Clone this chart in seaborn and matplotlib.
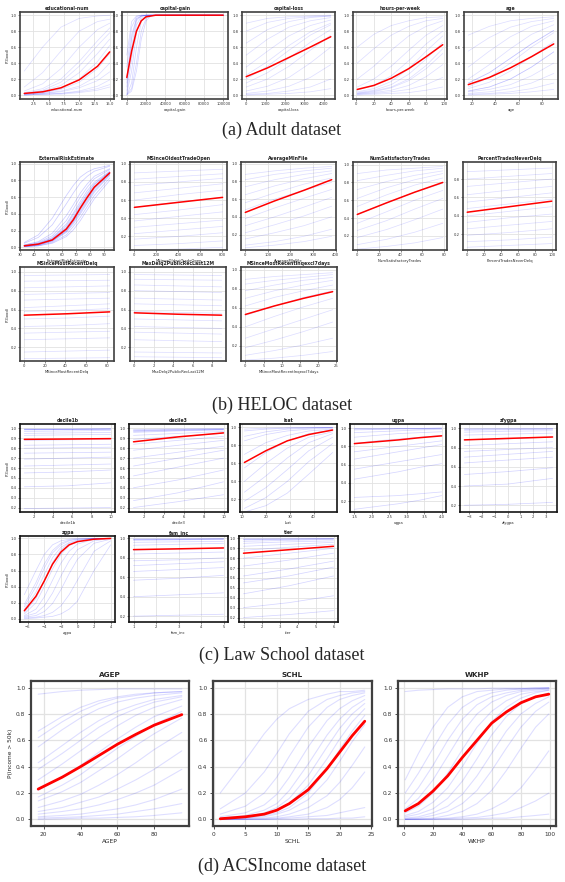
import matplotlib
matplotlib.use("Agg")
import matplotlib.pyplot as plt
from matplotlib.ticker import MultipleLocator
import pandas as pd
import seaborn as sns

# ---------------- Adult ----------------
edu_x = [1, 4, 7, 10, 13, 15]
edu_mean = [0.02, 0.04, 0.09, 0.19, 0.36, 0.54]
edu_ice = [
    [0.00, 0.01, 0.02, 0.04, 0.08, 0.13],
    [0.00, 0.01, 0.02, 0.05, 0.11, 0.19],
    [0.01, 0.02, 0.04, 0.09, 0.18, 0.29],
    [0.01, 0.02, 0.05, 0.11, 0.24, 0.40],
    [0.01, 0.03, 0.07, 0.16, 0.33, 0.52],
    [0.01, 0.03, 0.08, 0.20, 0.42, 0.62],
    [0.02, 0.05, 0.12, 0.28, 0.52, 0.70],
    [0.02, 0.06, 0.16, 0.36, 0.62, 0.78],
    [0.03, 0.08, 0.20, 0.42, 0.68, 0.84],
    [0.05, 0.14, 0.33, 0.60, 0.82, 0.90],
    [0.10, 0.28, 0.55, 0.80, 0.92, 0.95],
    [0.30, 0.60, 0.85, 0.96, 0.99, 1.00],
    [0.00, 0.01, 0.01, 0.03, 0.06, 0.10],
]

cg_x = [0, 5000, 10000, 15000, 20000, 25000, 30000, 100000]
cg_mean = [0.22, 0.55, 0.80, 0.93, 0.98, 0.99, 1.0, 1.0]
cg_ice = [
    [0.00, 0.15, 0.60, 0.92, 0.99, 1.0, 1.0, 1.0],
    [0.02, 0.30, 0.78, 0.96, 0.99, 1.0, 1.0, 1.0],
    [0.05, 0.45, 0.88, 0.98, 1.0, 1.0, 1.0, 1.0],
    [0.10, 0.60, 0.93, 0.99, 1.0, 1.0, 1.0, 1.0],
    [0.20, 0.75, 0.96, 0.99, 1.0, 1.0, 1.0, 1.0],
    [0.35, 0.85, 0.98, 1.0, 1.0, 1.0, 1.0, 1.0],
    [0.50, 0.92, 0.99, 1.0, 1.0, 1.0, 1.0, 1.0],
    [0.01, 0.08, 0.40, 0.80, 0.96, 0.99, 1.0, 1.0],
    [0.00, 0.05, 0.30, 0.70, 0.93, 0.99, 1.0, 1.0],
    [0.15, 0.70, 0.95, 0.99, 1.0, 1.0, 1.0, 1.0],
]

cl_x = [0, 1100, 2200, 3300, 4356]
cl_mean = [0.23, 0.34, 0.47, 0.60, 0.73]
cl_ice = [
    [0.00, 0.01, 0.02, 0.04, 0.08],
    [0.01, 0.02, 0.05, 0.10, 0.20],
    [0.02, 0.05, 0.11, 0.22, 0.38],
    [0.05, 0.11, 0.22, 0.40, 0.60],
    [0.10, 0.20, 0.36, 0.56, 0.75],
    [0.15, 0.28, 0.46, 0.66, 0.82],
    [0.25, 0.42, 0.62, 0.79, 0.90],
    [0.35, 0.55, 0.74, 0.87, 0.94],
    [0.50, 0.70, 0.85, 0.93, 0.97],
    [0.65, 0.82, 0.92, 0.97, 0.99],
    [0.80, 0.91, 0.96, 0.98, 0.99],
    [0.90, 0.96, 0.98, 0.99, 1.00],
    [0.20, 0.36, 0.56, 0.75, 0.88],
]

hpw_x = [1, 20, 40, 60, 80, 99]
hpw_mean = [0.07, 0.12, 0.21, 0.33, 0.48, 0.63]
hpw_ice = [
    [0.00, 0.01, 0.02, 0.03, 0.06, 0.10],
    [0.01, 0.02, 0.04, 0.07, 0.13, 0.22],
    [0.01, 0.03, 0.06, 0.12, 0.23, 0.38],
    [0.02, 0.04, 0.09, 0.18, 0.33, 0.52],
    [0.03, 0.06, 0.13, 0.26, 0.45, 0.66],
    [0.04, 0.08, 0.17, 0.33, 0.55, 0.74],
    [0.06, 0.12, 0.24, 0.43, 0.64, 0.80],
    [0.10, 0.20, 0.36, 0.56, 0.75, 0.87],
    [0.20, 0.36, 0.56, 0.74, 0.86, 0.93],
    [0.40, 0.58, 0.75, 0.86, 0.93, 0.96],
    [0.60, 0.76, 0.87, 0.93, 0.97, 0.98],
    [0.02, 0.05, 0.10, 0.20, 0.37, 0.58],
]

age_x = [17, 35, 53, 71, 90]
age_mean = [0.13, 0.22, 0.34, 0.48, 0.64]
age_ice = [
    [0.15, 0.28, 0.46, 0.64, 0.81],
    [0.15, 0.28, 0.46, 0.64, 0.81],
    [0.05, 0.10, 0.20, 0.35, 0.54],
    [0.05, 0.10, 0.20, 0.35, 0.54],
    [0.04, 0.07, 0.13, 0.24, 0.40],
    [0.02, 0.04, 0.08, 0.15, 0.27],
    [0.01, 0.02, 0.04, 0.08, 0.15],
    [0.00, 0.01, 0.02, 0.04, 0.07],
    [0.08, 0.16, 0.30, 0.48, 0.67],
    [0.10, 0.22, 0.40, 0.60, 0.78],
    [0.20, 0.38, 0.58, 0.76, 0.88],
    [0.35, 0.55, 0.73, 0.86, 0.93],
    [0.55, 0.72, 0.85, 0.92, 0.96],
    [0.75, 0.86, 0.93, 0.96, 0.98],
]

# ---------------- HELOC ----------------
ere_x = [33, 43, 53, 63, 68, 73, 78, 83, 94]
ere_mean = [0.02, 0.04, 0.09, 0.22, 0.33, 0.47, 0.60, 0.72, 0.89]
ere_ice = [
    [0.01, 0.03, 0.07, 0.18, 0.28, 0.40, 0.53, 0.66, 0.86],
    [0.02, 0.04, 0.10, 0.24, 0.36, 0.50, 0.63, 0.75, 0.90],
    [0.01, 0.02, 0.05, 0.13, 0.21, 0.32, 0.45, 0.58, 0.80],
    [0.02, 0.05, 0.12, 0.28, 0.41, 0.55, 0.68, 0.78, 0.91],
    [0.03, 0.07, 0.17, 0.38, 0.51, 0.65, 0.76, 0.85, 0.94],
    [0.05, 0.12, 0.27, 0.52, 0.65, 0.77, 0.85, 0.91, 0.97],
    [0.01, 0.03, 0.08, 0.20, 0.31, 0.44, 0.57, 0.70, 0.88],
    [0.02, 0.04, 0.09, 0.21, 0.33, 0.46, 0.59, 0.71, 0.89],
    [0.01, 0.02, 0.06, 0.15, 0.25, 0.36, 0.49, 0.62, 0.83],
    [0.03, 0.06, 0.14, 0.32, 0.46, 0.60, 0.72, 0.82, 0.93],
    [0.06, 0.15, 0.35, 0.62, 0.74, 0.84, 0.90, 0.94, 0.98],
    [0.02, 0.04, 0.10, 0.23, 0.35, 0.48, 0.61, 0.73, 0.88],
    [0.02, 0.03, 0.08, 0.19, 0.30, 0.42, 0.55, 0.68, 0.87],
    [0.02, 0.05, 0.11, 0.26, 0.39, 0.52, 0.65, 0.76, 0.90],
]

mot_x = [0, 400, 803]
mot_mean = [0.52, 0.575, 0.63]
mot_ice = [
    [0.05, 0.06, 0.08], [0.10, 0.12, 0.15], [0.17, 0.20, 0.24],
    [0.23, 0.27, 0.31], [0.30, 0.34, 0.38], [0.37, 0.42, 0.47],
    [0.44, 0.49, 0.55], [0.52, 0.58, 0.63], [0.60, 0.66, 0.71],
    [0.68, 0.73, 0.78], [0.76, 0.80, 0.84], [0.83, 0.86, 0.89],
    [0.90, 0.92, 0.94],
]

amf_x = [0, 130, 260, 383]
amf_mean = [0.45, 0.58, 0.70, 0.82]
amf_ice = [
    [0.08, 0.12, 0.18, 0.26], [0.15, 0.22, 0.30, 0.40],
    [0.22, 0.31, 0.41, 0.52], [0.30, 0.40, 0.51, 0.62],
    [0.38, 0.50, 0.61, 0.71], [0.48, 0.60, 0.70, 0.79],
    [0.56, 0.67, 0.77, 0.84], [0.65, 0.75, 0.83, 0.89],
    [0.74, 0.82, 0.88, 0.92], [0.82, 0.88, 0.92, 0.95],
    [0.88, 0.92, 0.95, 0.97], [0.05, 0.08, 0.12, 0.18],
]

nst_x = [0, 27, 53, 79]
nst_mean = [0.44, 0.57, 0.69, 0.80]
nst_ice = [
    [0.05, 0.08, 0.12, 0.18], [0.10, 0.16, 0.24, 0.34],
    [0.18, 0.27, 0.38, 0.50], [0.26, 0.37, 0.50, 0.62],
    [0.34, 0.47, 0.60, 0.71], [0.44, 0.57, 0.69, 0.79],
    [0.53, 0.66, 0.77, 0.85], [0.62, 0.74, 0.83, 0.90],
    [0.72, 0.81, 0.88, 0.93], [0.82, 0.88, 0.93, 0.96],
    [0.90, 0.94, 0.96, 0.98],
]

ptnd_x = [0, 50, 100]
ptnd_mean = [0.44, 0.50, 0.56]
ptnd_ice = [
    [0.06, 0.08, 0.10], [0.12, 0.14, 0.17], [0.19, 0.22, 0.26],
    [0.26, 0.30, 0.34], [0.33, 0.38, 0.42], [0.40, 0.45, 0.50],
    [0.48, 0.53, 0.58], [0.55, 0.60, 0.65], [0.63, 0.68, 0.72],
    [0.72, 0.76, 0.80], [0.80, 0.83, 0.86], [0.88, 0.90, 0.92],
]

mrd_x = [0, 42, 83]
mrd_mean = [0.54, 0.555, 0.575]
mrd_ice = [
    [0.08, 0.085, 0.09], [0.15, 0.16, 0.17], [0.28, 0.29, 0.30],
    [0.35, 0.36, 0.37], [0.42, 0.43, 0.45], [0.50, 0.51, 0.53],
    [0.58, 0.59, 0.61], [0.62, 0.64, 0.66], [0.70, 0.71, 0.72],
    [0.76, 0.77, 0.78], [0.83, 0.84, 0.85], [0.90, 0.905, 0.91],
    [0.96, 0.965, 0.97],
]

mdq_x = [0, 4.5, 9]
mdq_mean = [0.565, 0.55, 0.54]
mdq_ice = [
    [0.10, 0.095, 0.09], [0.15, 0.145, 0.14], [0.28, 0.27, 0.26],
    [0.36, 0.35, 0.34], [0.42, 0.41, 0.40], [0.50, 0.49, 0.48],
    [0.58, 0.57, 0.56], [0.66, 0.65, 0.64], [0.72, 0.71, 0.70],
    [0.80, 0.79, 0.78], [0.86, 0.85, 0.84], [0.92, 0.915, 0.91],
    [0.97, 0.965, 0.96],
]

inq_x = [0, 8, 16, 24]
inq_mean = [0.53, 0.62, 0.70, 0.77]
inq_ice = [
    [0.05, 0.07, 0.10, 0.14], [0.10, 0.15, 0.21, 0.28],
    [0.18, 0.26, 0.35, 0.45], [0.28, 0.38, 0.48, 0.58],
    [0.40, 0.51, 0.61, 0.70], [0.52, 0.62, 0.71, 0.78],
    [0.62, 0.71, 0.78, 0.84], [0.70, 0.78, 0.84, 0.89],
    [0.78, 0.84, 0.89, 0.92], [0.85, 0.89, 0.92, 0.95],
    [0.90, 0.93, 0.95, 0.97],
]

# ---------------- Law School ----------------
d1b_x = [1, 5.5, 10]
d1b_mean = [0.89, 0.893, 0.897]
d1b_ice = [
    [0.995, 0.995, 0.997], [0.99, 0.99, 0.995], [0.99, 0.992, 0.995],
    [0.985, 0.99, 0.99], [0.97, 0.975, 0.98], [0.95, 0.955, 0.96],
    [0.93, 0.935, 0.94], [0.88, 0.885, 0.89], [0.83, 0.835, 0.84],
    [0.80, 0.805, 0.81], [0.75, 0.755, 0.76], [0.69, 0.70, 0.71],
    [0.62, 0.63, 0.64], [0.55, 0.56, 0.58], [0.41, 0.42, 0.45],
    [0.19, 0.195, 0.20],
]

d3_x = [1, 5.5, 10]
d3_mean = [0.865, 0.915, 0.955]
d3_ice = [
    [0.99, 0.995, 0.997], [0.98, 0.99, 0.995], [0.975, 0.985, 0.99],
    [0.97, 0.98, 0.99], [0.96, 0.975, 0.985], [0.93, 0.95, 0.97],
    [0.89, 0.92, 0.95], [0.84, 0.88, 0.92], [0.78, 0.83, 0.88],
    [0.70, 0.76, 0.82], [0.62, 0.70, 0.78], [0.52, 0.61, 0.70],
    [0.40, 0.48, 0.58], [0.27, 0.35, 0.46], [0.20, 0.26, 0.33],
]

lsat_x = [11, 20, 29, 38, 48]
lsat_mean = [0.61, 0.74, 0.85, 0.92, 0.97]
lsat_ice = [
    [0.96, 0.98, 0.99, 0.995, 1.0], [0.90, 0.95, 0.98, 0.99, 1.0],
    [0.85, 0.92, 0.96, 0.98, 0.99], [0.70, 0.83, 0.91, 0.96, 0.98],
    [0.55, 0.72, 0.85, 0.93, 0.97], [0.40, 0.60, 0.77, 0.89, 0.95],
    [0.28, 0.46, 0.66, 0.83, 0.93], [0.18, 0.33, 0.53, 0.74, 0.89],
    [0.10, 0.22, 0.40, 0.62, 0.82], [0.06, 0.13, 0.27, 0.48, 0.72],
    [0.98, 0.99, 0.995, 1.0, 1.0],
]

ugpa_x = [1.5, 2.125, 2.75, 3.375, 4.0]
ugpa_mean = [0.83, 0.85, 0.87, 0.895, 0.915]
ugpa_ice = [
    [0.995, 0.995, 0.997, 0.997, 1.0], [0.99, 0.99, 0.995, 0.995, 1.0],
    [0.98, 0.985, 0.99, 0.99, 0.995], [0.95, 0.96, 0.97, 0.98, 0.985],
    [0.90, 0.92, 0.94, 0.95, 0.96], [0.83, 0.86, 0.88, 0.90, 0.92],
    [0.74, 0.77, 0.80, 0.83, 0.86], [0.66, 0.70, 0.74, 0.78, 0.82],
    [0.55, 0.59, 0.63, 0.67, 0.71], [0.44, 0.48, 0.52, 0.57, 0.61],
    [0.24, 0.25, 0.26, 0.28, 0.30], [0.11, 0.14, 0.17, 0.21, 0.26],
]

zfy_x = [-3.35, 0, 3.5]
zfy_mean = [0.88, 0.895, 0.91]
zfy_ice = [
    [0.995, 0.996, 0.997], [0.99, 0.993, 0.995], [0.98, 0.985, 0.99],
    [0.96, 0.97, 0.975], [0.93, 0.94, 0.95], [0.88, 0.89, 0.91],
    [0.82, 0.84, 0.86], [0.76, 0.78, 0.80], [0.70, 0.73, 0.76],
    [0.64, 0.67, 0.70], [0.52, 0.55, 0.59], [0.40, 0.42, 0.48],
    [0.20, 0.21, 0.23],
]

zgpa_x = [-6.4, -5, -4, -3, -2, -1, 0, 2, 4]
zgpa_mean = [0.10, 0.28, 0.47, 0.68, 0.83, 0.92, 0.96, 0.99, 1.0]
zgpa_ice = [
    [0.30, 0.60, 0.80, 0.92, 0.97, 0.99, 1.0, 1.0, 1.0],
    [0.18, 0.45, 0.68, 0.85, 0.94, 0.98, 0.99, 1.0, 1.0],
    [0.12, 0.33, 0.55, 0.76, 0.89, 0.95, 0.98, 1.0, 1.0],
    [0.06, 0.20, 0.40, 0.62, 0.80, 0.91, 0.96, 0.99, 1.0],
    [0.04, 0.12, 0.27, 0.48, 0.69, 0.84, 0.93, 0.99, 1.0],
    [0.03, 0.07, 0.16, 0.32, 0.53, 0.72, 0.86, 0.97, 1.0],
    [0.02, 0.04, 0.09, 0.19, 0.36, 0.56, 0.74, 0.94, 0.99],
    [0.01, 0.02, 0.04, 0.08, 0.16, 0.30, 0.48, 0.84, 0.97],
    [0.00, 0.01, 0.02, 0.03, 0.06, 0.12, 0.22, 0.60, 0.92],
    [0.15, 0.40, 0.63, 0.82, 0.92, 0.97, 0.99, 1.0, 1.0],
    [0.08, 0.25, 0.47, 0.70, 0.86, 0.94, 0.97, 1.0, 1.0],
]

fam_x = [1, 3, 5]
fam_mean = [0.885, 0.893, 0.902]
fam_ice = [
    [0.995, 0.995, 0.997], [0.99, 0.99, 0.995], [0.99, 0.992, 0.995],
    [0.98, 0.985, 0.99], [0.96, 0.965, 0.97], [0.93, 0.94, 0.95],
    [0.88, 0.89, 0.90], [0.84, 0.85, 0.86], [0.77, 0.78, 0.80],
    [0.72, 0.74, 0.76], [0.66, 0.68, 0.70], [0.57, 0.59, 0.62],
    [0.40, 0.42, 0.44], [0.20, 0.21, 0.22],
]

tier_x = [1, 3.5, 6]
tier_mean = [0.85, 0.885, 0.92]
tier_ice = [
    [0.995, 0.996, 0.998], [0.99, 0.993, 0.996], [0.985, 0.99, 0.995],
    [0.97, 0.98, 0.99], [0.95, 0.965, 0.975], [0.92, 0.94, 0.96],
    [0.88, 0.91, 0.94], [0.80, 0.85, 0.90], [0.72, 0.78, 0.85],
    [0.62, 0.69, 0.77], [0.55, 0.62, 0.71], [0.44, 0.52, 0.62],
    [0.30, 0.35, 0.42], [0.20, 0.23, 0.27],
]

# ---------------- ACSIncome ----------------
agep_x = [17, 30, 40, 50, 60, 70, 80, 95]
agep_mean = [0.23, 0.32, 0.40, 0.485, 0.57, 0.645, 0.715, 0.795]
agep_ice = [
    [0.95, 0.97, 0.98, 0.985, 0.99, 0.99, 0.99, 0.99],
    [0.67, 0.78, 0.85, 0.90, 0.93, 0.95, 0.96, 0.97],
    [0.62, 0.74, 0.82, 0.88, 0.92, 0.94, 0.96, 0.97],
    [0.55, 0.68, 0.77, 0.84, 0.89, 0.92, 0.94, 0.96],
    [0.43, 0.56, 0.66, 0.75, 0.82, 0.87, 0.91, 0.94],
    [0.38, 0.50, 0.60, 0.70, 0.78, 0.84, 0.89, 0.93],
    [0.30, 0.42, 0.52, 0.62, 0.71, 0.79, 0.85, 0.91],
    [0.22, 0.32, 0.41, 0.51, 0.61, 0.70, 0.78, 0.86],
    [0.17, 0.26, 0.34, 0.44, 0.54, 0.63, 0.72, 0.82],
    [0.14, 0.21, 0.28, 0.37, 0.46, 0.56, 0.65, 0.77],
    [0.09, 0.14, 0.19, 0.26, 0.34, 0.43, 0.53, 0.66],
    [0.06, 0.09, 0.13, 0.17, 0.23, 0.30, 0.38, 0.52],
    [0.04, 0.06, 0.08, 0.11, 0.15, 0.20, 0.26, 0.38],
    [0.02, 0.03, 0.04, 0.06, 0.08, 0.11, 0.15, 0.23],
    [0.01, 0.015, 0.02, 0.03, 0.04, 0.06, 0.08, 0.12],
    [0.00, 0.005, 0.01, 0.01, 0.015, 0.02, 0.03, 0.05],
]

schl_x = [1, 5, 8, 10, 12, 15, 18, 20, 22, 24]
schl_mean = [0.005, 0.02, 0.04, 0.07, 0.12, 0.225, 0.385, 0.51, 0.635, 0.745]
schl_ice = [
    [0.0, 0.0, 0.005, 0.01, 0.02, 0.04, 0.09, 0.15, 0.24, 0.36],
    [0.0, 0.005, 0.01, 0.02, 0.04, 0.09, 0.18, 0.28, 0.41, 0.55],
    [0.0, 0.01, 0.02, 0.04, 0.07, 0.15, 0.30, 0.44, 0.59, 0.72],
    [0.005, 0.01, 0.03, 0.05, 0.09, 0.20, 0.38, 0.53, 0.67, 0.79],
    [0.005, 0.015, 0.04, 0.07, 0.12, 0.26, 0.46, 0.61, 0.74, 0.84],
    [0.01, 0.02, 0.05, 0.09, 0.16, 0.33, 0.55, 0.69, 0.80, 0.88],
    [0.01, 0.03, 0.07, 0.12, 0.22, 0.42, 0.64, 0.76, 0.85, 0.91],
    [0.02, 0.05, 0.11, 0.19, 0.32, 0.55, 0.75, 0.84, 0.90, 0.94],
    [0.04, 0.10, 0.20, 0.32, 0.48, 0.70, 0.85, 0.91, 0.94, 0.96],
    [0.08, 0.20, 0.36, 0.50, 0.65, 0.82, 0.91, 0.94, 0.96, 0.97],
    [0.20, 0.45, 0.65, 0.76, 0.84, 0.91, 0.95, 0.97, 0.97, 0.98],
    [0.0, 0.0, 0.0, 0.005, 0.01, 0.02, 0.03, 0.05, 0.07, 0.09],
    [0.0, 0.0, 0.0, 0.0, 0.0, 0.005, 0.005, 0.01, 0.01, 0.02],
]

wkhp_x = [1, 10, 20, 30, 40, 50, 60, 70, 80, 90, 99]
wkhp_mean = [0.065, 0.12, 0.215, 0.33, 0.47, 0.60, 0.73, 0.815, 0.885, 0.93, 0.95]
wkhp_ice = [
    [0.20, 0.35, 0.54, 0.72, 0.85, 0.92, 0.96, 0.98, 0.99, 0.99, 1.0],
    [0.12, 0.24, 0.41, 0.60, 0.76, 0.87, 0.93, 0.96, 0.98, 0.99, 0.99],
    [0.08, 0.16, 0.30, 0.48, 0.66, 0.80, 0.89, 0.94, 0.97, 0.98, 0.99],
    [0.05, 0.10, 0.20, 0.35, 0.53, 0.70, 0.82, 0.90, 0.95, 0.97, 0.98],
    [0.03, 0.06, 0.13, 0.24, 0.40, 0.58, 0.74, 0.85, 0.92, 0.96, 0.98],
    [0.02, 0.04, 0.08, 0.16, 0.29, 0.46, 0.64, 0.78, 0.88, 0.93, 0.96],
    [0.01, 0.02, 0.05, 0.10, 0.19, 0.33, 0.50, 0.67, 0.80, 0.88, 0.93],
    [0.005, 0.01, 0.03, 0.06, 0.12, 0.22, 0.37, 0.54, 0.70, 0.82, 0.89],
    [0.0, 0.005, 0.01, 0.03, 0.06, 0.12, 0.22, 0.37, 0.54, 0.70, 0.80],
    [0.0, 0.0, 0.005, 0.01, 0.02, 0.04, 0.08, 0.14, 0.24, 0.38, 0.52],
    [0.0, 0.0, 0.0, 0.005, 0.01, 0.015, 0.03, 0.05, 0.09, 0.14, 0.20],
    [0.0, 0.0, 0.0, 0.0, 0.0, 0.005, 0.01, 0.01, 0.02, 0.03, 0.04],
    [0.30, 0.50, 0.70, 0.85, 0.93, 0.97, 0.98, 0.99, 0.99, 1.0, 1.0],
    [0.97, 0.98, 0.985, 0.99, 0.99, 0.99, 0.995, 0.995, 0.995, 0.995, 0.995],
]

W, H = 565, 882
sns.set_style("whitegrid", {
    "axes.edgecolor": "0.25",
    "grid.color": "#e2e2e2",
    "xtick.bottom": True,
    "ytick.left": True,
    "xtick.color": "0.2",
    "ytick.color": "0.2",
})
plt.rcParams["font.family"] = ["DejaVu Sans"]

fig = plt.figure(figsize=(W / 100, H / 100), dpi=100)


def panel(box, name, xs, mean, ice, xticks, ylim, ystep, ylabel="",
          big=False, alpha=0.13, edge="0.25"):
    l, r, t, b = box
    ax = fig.add_axes([l / W, 1 - b / H, (r - l) / W, (b - t) / H])
    rows = [(i, x, p) for i, c in enumerate(ice) for x, p in zip(xs, c)]
    df = pd.DataFrame(rows, columns=["curve", "x", "p"])
    fs = 4.2 if big else 2.7
    sns.lineplot(data=df, x="x", y="p", units="curve", estimator=None,
                 color="blue", alpha=alpha, lw=0.8 if big else 0.55, ax=ax)
    sns.lineplot(x=xs, y=mean, color="red", lw=2.0 if big else 1.1, ax=ax, zorder=5)
    ax.set_xticks(xticks)
    ax.set_ylim(ylim)
    ax.yaxis.set_major_locator(MultipleLocator(ystep))
    ax.set_title(name, fontsize=5.2 if big else 3.3, fontweight="bold",
                 pad=3 if big else 1.5)
    ax.set_xlabel(name, fontsize=fs, labelpad=2 if big else 1)
    ax.set_ylabel(ylabel, fontsize=fs, labelpad=2 if big else 1)
    ax.tick_params(labelsize=fs, length=2.5 if big else 1.5,
                   width=0.6 if big else 0.4, pad=1.5 if big else 0.8)
    ax.grid(lw=0.9 if big else 0.6)
    for s in ax.spines.values():
        s.set_linewidth(1.6 if big else 1.2)
        s.set_color(edge)
    return ax


row_a = (12, 99)
cols_a = [(20, 114), (122, 228), (242, 335), (353, 447), (464, 558)]
full = (-0.05, 1.04)
panel(cols_a[0] + row_a, "educational-num", edu_x, edu_mean, edu_ice,
      [2.5, 5.0, 7.5, 10.0, 12.5, 15.0], full, 0.2, "P(Good)")
panel(cols_a[1] + row_a, "capital-gain", cg_x, cg_mean, cg_ice,
      [0, 20000, 40000, 60000, 80000, 100000], full, 0.2, alpha=0.16)
panel(cols_a[2] + row_a, "capital-loss", cl_x, cl_mean, cl_ice,
      [0, 1000, 2000, 3000, 4000], full, 0.2)
panel(cols_a[3] + row_a, "hours-per-week", hpw_x, hpw_mean, hpw_ice,
      [0, 20, 40, 60, 80, 100], full, 0.2)
panel(cols_a[4] + row_a, "age", age_x, age_mean, age_ice,
      [20, 40, 60, 80], full, 0.2)

row_b1 = (162, 250)
cols_b1 = [(20, 114), (130, 227), (241, 336), (353, 447), (463, 556)]
panel(cols_b1[0] + row_b1, "ExternalRiskEstimate", ere_x, ere_mean, ere_ice,
      [30, 40, 50, 60, 70, 80, 90], (-0.03, 1.02), 0.2, "P(Good)", alpha=0.2)
panel(cols_b1[1] + row_b1, "MSinceOldestTradeOpen", mot_x, mot_mean, mot_ice,
      [0, 200, 400, 600, 800], (0.05, 1.02), 0.2)
panel(cols_b1[2] + row_b1, "AverageMInFile", amf_x, amf_mean, amf_ice,
      [0, 100, 200, 300, 400], (0.025, 1.02), 0.2)
panel(cols_b1[3] + row_b1, "NumSatisfactoryTrades", nst_x, nst_mean, nst_ice,
      [0, 20, 40, 60, 80], (0.04, 1.03), 0.2)
panel(cols_b1[4] + row_b1, "PercentTradesNeverDelq", ptnd_x, ptnd_mean, ptnd_ice,
      [0, 20, 40, 60, 80, 100], (0.03, 0.985), 0.2)

row_b2 = (267, 361)
cols_b2 = [(20, 114), (130, 226), (241, 337)]
panel(cols_b2[0] + row_b2, "MSinceMostRecentDelq", mrd_x, mrd_mean, mrd_ice,
      [0, 20, 40, 60, 80], (0.055, 1.05), 0.2, "P(Good)")
panel(cols_b2[1] + row_b2, "MaxDelq2PublicRecLast12M", mdq_x, mdq_mean, mdq_ice,
      [0, 2, 4, 6, 8], (0.055, 1.05), 0.2)
panel(cols_b2[2] + row_b2, "MSinceMostRecentInqexcl7days", inq_x, inq_mean, inq_ice,
      [0, 5, 10, 15, 20, 25], (0.04, 1.03), 0.2)

law = dict(alpha=0.16, edge="0.08")
row_c1 = (424, 512)
cols_c1 = [(20, 115), (129, 228), (240, 337), (350, 446), (460, 557)]
panel(cols_c1[0] + row_c1, "decile1b", d1b_x, d1b_mean, d1b_ice,
      [2, 4, 6, 8, 10], (0.155, 1.045), 0.1, "P(Good)", **law)
panel(cols_c1[1] + row_c1, "decile3", d3_x, d3_mean, d3_ice,
      [2, 4, 6, 8, 10], (0.155, 1.045), 0.1, **law)
panel(cols_c1[2] + row_c1, "lsat", lsat_x, lsat_mean, lsat_ice,
      [10, 20, 30, 40], (0.06, 1.037), 0.2, **law)
panel(cols_c1[3] + row_c1, "ugpa", ugpa_x, ugpa_mean, ugpa_ice,
      [1.5, 2.0, 2.5, 3.0, 3.5, 4.0], (0.08, 1.045), 0.2, **law)
panel(cols_c1[4] + row_c1, "zfygpa", zfy_x, zfy_mean, zfy_ice,
      [-3, -2, -1, 0, 1, 2, 3], (0.13, 1.045), 0.2, **law)

row_c2 = (536, 622)
cols_c2 = [(20, 115), (129, 228), (239, 338)]
panel(cols_c2[0] + row_c2, "zgpa", zgpa_x, zgpa_mean, zgpa_ice,
      [-6, -4, -2, 0, 2, 4], (-0.04, 1.03), 0.2, "P(Good)", **law)
panel(cols_c2[1] + row_c2, "fam_inc", fam_x, fam_mean, fam_ice,
      [1, 2, 3, 4, 5], (0.14, 1.025), 0.2, **law)
panel(cols_c2[2] + row_c2, "tier", tier_x, tier_mean, tier_ice,
      [1, 2, 3, 4, 5, 6], (0.155, 1.024), 0.1, **law)

row_d = (681, 826)
cols_d = [(31, 189), (213, 372), (398, 556)]
panel(cols_d[0] + row_d, "AGEP", agep_x, agep_mean, agep_ice,
      [20, 40, 60, 80], (-0.05, 1.05), 0.2, "P(income > 50k)", big=True)
panel(cols_d[1] + row_d, "SCHL", schl_x, schl_mean, schl_ice,
      [0, 5, 10, 15, 20, 25], (-0.05, 1.05), 0.2, big=True)
panel(cols_d[2] + row_d, "WKHP", wkhp_x, wkhp_mean, wkhp_ice,
      [0, 20, 40, 60, 80, 100], (-0.05, 1.05), 0.2, big=True)

captions = ["(a) Adult dataset", "(b) HELOC dataset",
            "(c) Law School dataset", "(d) ACSIncome dataset"]
caption_y = [130, 405, 655, 866]
for text, y in zip(captions, caption_y):
    fig.text(282 / W, 1 - y / H, text, ha="center", va="center",
             fontsize=13, family=["Liberation Serif", "DejaVu Serif"])

fig.savefig("out.png", dpi=100)
